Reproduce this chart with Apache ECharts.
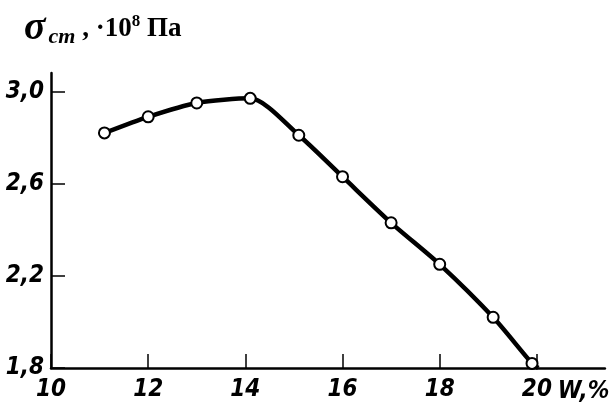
<!DOCTYPE html>
<html>
<head>
<meta charset="utf-8">
<script src="https://cdn.jsdelivr.net/npm/echarts@6/dist/echarts.min.js"></script>
<style>
  html, body { margin: 0; padding: 0; background: #fff; }
  #chart { width: 612px; height: 407px; }
</style>
</head>
<body>
<div id="chart"></div>
<script>
// Moisture content W, % (measured points)
const moisture = [11.1, 12.0, 13.0, 14.1, 15.1, 16.0, 17.0, 18.0, 19.1, 19.9];
// Compressive strength, 10^8 Pa
const strength = [2.82, 2.89, 2.95, 2.97, 2.81, 2.63, 2.43, 2.25, 2.02, 1.82];
// Where the fitted curve runs into the W axis
const curveEnd = [20.03, 1.8];

const xTicks = [10, 12, 14, 16, 18, 20];
const yTicks = [1.8, 2.2, 2.6, 3.0];

const points = moisture.map((w, i) => [w, strength[i]]);
const curve = points.concat([curveEnd]);

const labelFont = {
  fontFamily: '"Liberation Sans Narrow", "DejaVu Sans Condensed", sans-serif',
  fontStyle: 'italic',
  fontWeight: 'bold',
  fontSize: 24,
  color: '#000'
};

const serif = '"Liberation Serif", "DejaVu Serif", serif';

const chart = echarts.init(document.getElementById('chart'));
chart.setOption({
  animation: false,
  backgroundColor: '#fff',
  title: {
    left: 19,
    top: 2,
    text: '{s|σ}{sub|ст}{n| , ·10}{sup|8}{n| Па}',
    textStyle: {
      rich: {
        s: { fontFamily: serif, fontStyle: 'italic', fontSize: 40, color: '#000', lineHeight: 44, verticalAlign: 'middle' },
        sub: { fontFamily: serif, fontStyle: 'italic', fontSize: 22, color: '#000', lineHeight: 44, verticalAlign: 'bottom', padding: [0, 0, 3, 3] },
        n: { fontFamily: serif, fontWeight: 'bold', fontSize: 27, color: '#000', lineHeight: 44, verticalAlign: 'middle' },
        sup: { fontFamily: serif, fontWeight: 'bold', fontSize: 17, color: '#000', lineHeight: 44, verticalAlign: 'top', padding: [6, 0, 0, 0] }
      }
    }
  },
  grid: { left: 51, right: 4, top: 73, bottom: 39 },
  xAxis: {
    type: 'value',
    min: 10,
    max: 21.4,
    splitLine: { show: false },
    axisLine: { show: true, onZero: false, lineStyle: { color: '#000', width: 2.5 } },
    axisTick: { show: true, inside: true, length: 14, customValues: xTicks, lineStyle: { color: '#000', width: 1.5 } },
    axisLabel: Object.assign({ customValues: xTicks, margin: 10, formatter: v => String(v) }, labelFont),
    name: 'W,%',
    nameLocation: 'end',
    nameGap: 0,
    nameTextStyle: Object.assign({ align: 'right', verticalAlign: 'top', padding: [12, 0, 0, 0] }, labelFont)
  },
  yAxis: {
    type: 'value',
    min: 1.8,
    max: 3.08,
    splitLine: { show: false },
    axisLine: { show: true, onZero: false, lineStyle: { color: '#000', width: 2.5 } },
    axisTick: { show: true, inside: true, length: 14, customValues: yTicks, lineStyle: { color: '#000', width: 1.5 } },
    axisLabel: Object.assign({ customValues: yTicks, margin: 7, formatter: v => v.toFixed(1).replace('.', ',') }, labelFont)
  },
  series: [
    {
      type: 'line',
      data: curve,
      smooth: 0.25,
      symbol: 'none',
      lineStyle: { color: '#000', width: 4.5 },
      z: 2
    },
    {
      type: 'scatter',
      data: points,
      symbol: 'circle',
      symbolSize: 11,
      itemStyle: { color: '#fff', borderColor: '#000', borderWidth: 2, opacity: 1 },
      z: 3
    }
  ]
});
</script>
</body>
</html>
